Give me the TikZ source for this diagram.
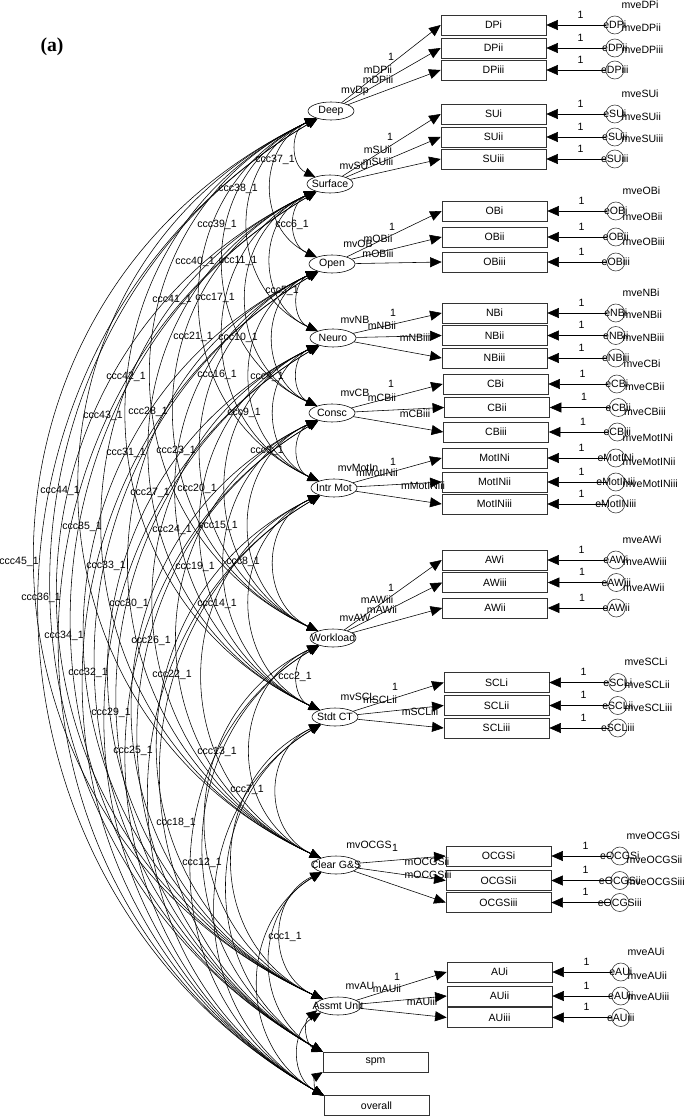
\documentclass[tikz,border=0pt]{standalone}
\usepackage{fontspec}
\setmainfont{Liberation Sans}
\newfontfamily\captionserif{Liberation Serif}
\usepackage{tikz}
\usetikzlibrary{positioning}
\usetikzlibrary{shapes.geometric}
\usetikzlibrary{arrows.meta}

\begin{document}
\begin{tikzpicture}[
    x=0.025cm, y=-0.025cm,
    every node/.style={font=\fontsize{7.5}{9}\selectfont, inner sep=0pt},
    latent/.style={ellipse, draw=black, fill=white, minimum width=1.15cm, minimum height=0.45cm},
    obsbox/.style={rectangle, draw=black!80, fill=white, minimum width=2.625cm, minimum height=0.49cm},
    errnode/.style={circle, draw=black!80, minimum size=0.45cm},
    load/.style={-{Triangle[length=0.29cm,width=0.25cm]}},
    covar/.style={{Triangle[length=0.27cm,width=0.23cm]}-{Triangle[length=0.27cm,width=0.23cm]}, bend right=65, looseness=1.21},
    covobs/.style={covar, bend right=60, looseness=1.13},
    one/.style={pos=0.42, above=0.16cm}
]
\useasboundingbox (0,0) rectangle (685,1116);
\node[font=\fontsize{14}{16}\selectfont\captionserif\bfseries] (tag) at (52,47) {(a)};

% Latent factors
\node[latent] (dp) at (331,111) {\makebox[0pt]{Deep}};
\node[latent] (su) at (330,184) {\makebox[0pt]{Surface}};
\node[latent] (op) at (332,264) {\makebox[0pt]{Open}};
\node[latent] (ne) at (333,338) {\makebox[0pt]{Neuro}};
\node[latent] (co) at (332,413) {\makebox[0pt]{Consc}};
\node[latent] (im) at (334,488) {\makebox[0pt]{Intr Mot}};
\node[latent] (wl) at (333,638) {\makebox[0pt]{Workload}};
\node[latent] (sc) at (335,717) {\makebox[0pt]{Stdt CT}};
\node[latent] (cg) at (336,865) {\makebox[0pt]{Clear G\&S}};
\node[latent] (au) at (338,1006) {\makebox[0pt]{Assmt Unit}};
\node[obsbox] (spm) at (375.5,1062) {spm};
\node[obsbox] (ovr) at (376.5,1105.5) {overall};

% Deep indicators
\node[obsbox] (DPi) at (493.5,25) {DPi};
\node[obsbox] (DPii) at (493.5,48) {DPii};
\node[obsbox] (DPiii) at (493.5,70) {DPiii};
\node[errnode, right=1.48cm of DPi] (eDPi) {\makebox[0pt]{eDPi}};
\node[errnode, right=1.48cm of DPii] (eDPii) {\makebox[0pt]{eDPii}};
\node[errnode, right=1.48cm of DPiii] (eDPiii) {\makebox[0pt]{eDPiii}};
\node[above right=0.24cm and 0cm of eDPi] (mveDPi) {mveDPi};
\node[above right=0.24cm and 0cm of eDPii] (mveDPii) {mveDPii};
\node[above right=0.24cm and 0cm of eDPiii] (mveDPiii) {mveDPiii};
\node (fDPi) at (391,57) {1};
\node (mDPii) at (378,70) {mDPii};
\node (mDPiii) at (378,80) {mDPiii};
\node (mvDp) at (355,91) {mvDp};
\draw[load] (dp) -- (DPi.west);
\draw[load] (dp) -- (DPii.west);
\draw[load] (dp) -- (DPiii.west);
\draw[load] (eDPi) -- node[one] {1} (DPi);
\draw[load] (eDPii) -- node[one] {1} (DPii);
\draw[load] (eDPiii) -- node[one] {1} (DPiii);

% Surface indicators
\node[obsbox] (SUi) at (493.5,114) {SUi};
\node[obsbox] (SUii) at (493.5,137) {SUii};
\node[obsbox] (SUiii) at (493.5,159) {SUiii};
\node[errnode, right=1.48cm of SUi] (eSUi) {\makebox[0pt]{eSUi}};
\node[errnode, right=1.48cm of SUii] (eSUii) {\makebox[0pt]{eSUii}};
\node[errnode, right=1.48cm of SUiii] (eSUiii) {\makebox[0pt]{eSUiii}};
\node[above right=0.24cm and 0cm of eSUi] (mveSUi) {mveSUi};
\node[above right=0.24cm and 0cm of eSUii] (mveSUii) {mveSUii};
\node[above right=0.24cm and 0cm of eSUiii] (mveSUiii) {mveSUiii};
\node (fSUi) at (390,137) {1};
\node (mSUii) at (378,150) {mSUii};
\node (mSUiii) at (378,162) {mSUiii};
\node (mvSU) at (354,166) {mvSU};
\draw[load] (su) -- (SUi.west);
\draw[load] (su) -- (SUii.west);
\draw[load] (su) -- (SUiii.west);
\draw[load] (eSUi) -- node[one] {1} (SUi);
\draw[load] (eSUii) -- node[one] {1} (SUii);
\draw[load] (eSUiii) -- node[one] {1} (SUiii);

% Open indicators
\node[obsbox] (OBi) at (494.5,211) {OBi};
\node[obsbox] (OBii) at (494.5,237) {OBii};
\node[obsbox] (OBiii) at (494.5,262) {OBiii};
\node[errnode, right=1.48cm of OBi] (eOBi) {\makebox[0pt]{eOBi}};
\node[errnode, right=1.48cm of OBii] (eOBii) {\makebox[0pt]{eOBii}};
\node[errnode, right=1.48cm of OBiii] (eOBiii) {\makebox[0pt]{eOBiii}};
\node[above right=0.24cm and 0cm of eOBi] (mveOBi) {mveOBi};
\node[above right=0.24cm and 0cm of eOBii] (mveOBii) {mveOBii};
\node[above right=0.24cm and 0cm of eOBiii] (mveOBiii) {mveOBiii};
\node (fOBi) at (392,227) {1};
\node (mOBii) at (378,239) {mOBii};
\node (mOBiii) at (378,254) {mOBiii};
\node (mvOB) at (358,244) {mvOB};
\draw[load] (op) -- (OBi.west);
\draw[load] (op) -- (OBii.west);
\draw[load] (op) -- (OBiii.west);
\draw[load] (eOBi) -- node[one] {1} (OBi);
\draw[load] (eOBii) -- node[one] {1} (OBii);
\draw[load] (eOBiii) -- node[one] {1} (OBiii);

% Neuro indicators
\node[obsbox] (NBi) at (494.5,313) {NBi};
\node[obsbox] (NBii) at (494.5,335.5) {NBii};
\node[obsbox] (NBiii) at (494.5,358) {NBiii};
\node[errnode, right=1.48cm of NBi] (eNBi) {\makebox[0pt]{eNBi}};
\node[errnode, right=1.48cm of NBii] (eNBii) {\makebox[0pt]{eNBii}};
\node[errnode, right=1.48cm of NBiii] (eNBiii) {\makebox[0pt]{eNBiii}};
\node[above right=0.24cm and 0cm of eNBi] (mveNBi) {mveNBi};
\node[above right=0.24cm and 0cm of eNBii] (mveNBii) {mveNBii};
\node[above right=0.24cm and 0cm of eNBiii] (mveNBiii) {mveNBiii};
\node (fNBi) at (393,313) {1};
\node (mNBii) at (382,326) {mNBii};
\node (mNBiii) at (415,338) {mNBiii};
\node (mvNB) at (355,320) {mvNB};
\draw[load] (ne) -- (NBi.west);
\draw[load] (ne) -- (NBii.west);
\draw[load] (ne) -- (NBiii.west);
\draw[load] (eNBi) -- node[one] {1} (NBi);
\draw[load] (eNBii) -- node[one] {1} (NBii);
\draw[load] (eNBiii) -- node[one] {1} (NBiii);

% Consc indicators
\node[obsbox] (CBi) at (495.5,384) {CBi};
\node[obsbox] (CBii) at (497,407.5) {CBii};
\node[obsbox] (CBiii) at (496,432) {CBiii};
\node[errnode, right=1.48cm of CBi] (eCBi) {\makebox[0pt]{eCBi}};
\node[errnode, right=1.48cm of CBii] (eCBii) {\makebox[0pt]{eCBii}};
\node[errnode, right=1.48cm of CBiii] (eCBiii) {\makebox[0pt]{eCBiii}};
\node[above right=0.24cm and 0cm of eCBi] (mveCBi) {mveCBi};
\node[above right=0.24cm and 0cm of eCBii] (mveCBii) {mveCBii};
\node[above right=0.24cm and 0cm of eCBiii] (mveCBiii) {mveCBiii};
\node (fCBi) at (391,384) {1};
\node (mCBii) at (382,398) {mCBii};
\node (mCBiii) at (415,414) {mCBiii};
\node (mvCB) at (355,393) {mvCB};
\draw[load] (co) -- (CBi.west);
\draw[load] (co) -- (CBii.west);
\draw[load] (co) -- (CBiii.west);
\draw[load] (eCBi) -- node[one] {1} (CBi);
\draw[load] (eCBii) -- node[one] {1} (CBii);
\draw[load] (eCBiii) -- node[one] {1} (CBiii);

% Intr Mot indicators
\node[obsbox] (MotINi) at (494.5,458) {MotINi};
\node[obsbox] (MotINii) at (494.5,482) {MotINii};
\node[obsbox] (MotINiii) at (494.5,504) {MotINiii};
\node[errnode, right=1.48cm of MotINi] (eMotINi) {\makebox[0pt]{eMotINi}};
\node[errnode, right=1.48cm of MotINii] (eMotINii) {\makebox[0pt]{eMotINii}};
\node[errnode, right=1.48cm of MotINiii] (eMotINiii) {\makebox[0pt]{eMotINiii}};
\node[above right=0.24cm and 0cm of eMotINi] (mveMotINi) {mveMotINi};
\node[above right=0.24cm and 0cm of eMotINii] (mveMotINii) {mveMotINii};
\node[above right=0.24cm and 0cm of eMotINiii] (mveMotINiii) {mveMotINiii};
\node (fMotINi) at (393,462) {1};
\node (mMotINii) at (377,473) {mMotINii};
\node (mMotINiii) at (423,486) {mMotINiii};
\node (mvMotIn) at (358,468) {mvMotIn};
\draw[load] (im) -- (MotINi.west);
\draw[load] (im) -- (MotINii.west);
\draw[load] (im) -- (MotINiii.west);
\draw[load] (eMotINi) -- node[one] {1} (MotINi);
\draw[load] (eMotINii) -- node[one] {1} (MotINii);
\draw[load] (eMotINiii) -- node[one] {1} (MotINiii);

% Workload indicators
\node[obsbox] (AWi) at (494.5,560) {AWi};
\node[obsbox] (AWiii) at (495,582.5) {AWiii};
\node[obsbox] (AWii) at (495,608) {AWii};
\node[errnode, right=1.48cm of AWi] (eAWi) {\makebox[0pt]{eAWi}};
\node[errnode, right=1.48cm of AWiii] (eAWiii) {\makebox[0pt]{eAWiii}};
\node[errnode, right=1.48cm of AWii] (eAWii) {\makebox[0pt]{eAWii}};
\node[above right=0.24cm and 0cm of eAWi] (mveAWi) {mveAWi};
\node[above right=0.24cm and 0cm of eAWiii] (mveAWiii) {mveAWiii};
\node[above right=0.24cm and 0cm of eAWii] (mveAWii) {mveAWii};
\node (fAWi) at (391,588) {1};
\node (mAWiii) at (377,600) {mAWiii};
\node (mAWii) at (382,610) {mAWii};
\node (mvAW) at (355,618) {mvAW};
\draw[load] (wl) -- (AWi.west);
\draw[load] (wl) -- (AWiii.west);
\draw[load] (wl) -- (AWii.west);
\draw[load] (eAWi) -- node[one] {1} (AWi);
\draw[load] (eAWiii) -- node[one] {1} (AWiii);
\draw[load] (eAWii) -- node[one] {1} (AWii);

% Stdt CT indicators
\node[obsbox] (SCLi) at (496.5,682.5) {SCLi};
\node[obsbox] (SCLii) at (496.5,705.5) {SCLii};
\node[obsbox] (SCLiii) at (496.5,728) {SCLiii};
\node[errnode, right=1.48cm of SCLi] (eSCLi) {\makebox[0pt]{eSCLi}};
\node[errnode, right=1.48cm of SCLii] (eSCLii) {\makebox[0pt]{eSCLii}};
\node[errnode, right=1.48cm of SCLiii] (eSCLiii) {\makebox[0pt]{eSCLiii}};
\node[above right=0.24cm and 0cm of eSCLi] (mveSCLi) {mveSCLi};
\node[above right=0.24cm and 0cm of eSCLii] (mveSCLii) {mveSCLii};
\node[above right=0.24cm and 0cm of eSCLiii] (mveSCLiii) {mveSCLiii};
\node (fSCLi) at (395,687) {1};
\node (mSCLii) at (380,700) {mSCLii};
\node (mSCLiii) at (420,712) {mSCLiii};
\node (mvSCL) at (358,697) {mvSCL};
\draw[load] (sc) -- (SCLi.west);
\draw[load] (sc) -- (SCLii.west);
\draw[load] (sc) -- (SCLiii.west);
\draw[load] (eSCLi) -- node[one] {1} (SCLi);
\draw[load] (eSCLii) -- node[one] {1} (SCLii);
\draw[load] (eSCLiii) -- node[one] {1} (SCLiii);

% Clear G&S indicators
\node[obsbox] (OCGSi) at (498.5,856) {OCGSi};
\node[obsbox] (OCGSii) at (498.5,880.5) {OCGSii};
\node[obsbox] (OCGSiii) at (498.5,902.5) {OCGSiii};
\node[errnode, right=1.48cm of OCGSi] (eOCGSi) {\makebox[0pt]{eOCGSi}};
\node[errnode, right=1.48cm of OCGSii] (eOCGSii) {\makebox[0pt]{eOCGSii}};
\node[errnode, right=1.48cm of OCGSiii] (eOCGSiii) {\makebox[0pt]{eOCGSiii}};
\node[above right=0.24cm and 0cm of eOCGSi] (mveOCGSi) {mveOCGSi};
\node[above right=0.24cm and 0cm of eOCGSii] (mveOCGSii) {mveOCGSii};
\node[above right=0.24cm and 0cm of eOCGSiii] (mveOCGSiii) {mveOCGSiii};
\node (fOCGSi) at (395,848) {1};
\node (mOCGSii) at (427,862) {mOCGSii};
\node (mOCGSiii) at (428,875) {mOCGSiii};
\node (mvOCGS) at (369,845) {mvOCGS};
\draw[load] (cg) -- (OCGSi.west);
\draw[load] (cg) -- (OCGSii.west);
\draw[load] (cg) -- (OCGSiii.west);
\draw[load] (eOCGSi) -- node[one] {1} (OCGSi);
\draw[load] (eOCGSii) -- node[one] {1} (OCGSii);
\draw[load] (eOCGSiii) -- node[one] {1} (OCGSiii);

% Assmt Unit indicators
\node[obsbox] (AUi) at (499.5,972) {AUi};
\node[obsbox] (AUii) at (499.5,996) {AUii};
\node[obsbox] (AUiii) at (499.5,1017.5) {AUiii};
\node[errnode, right=1.48cm of AUi] (eAUi) {\makebox[0pt]{eAUi}};
\node[errnode, right=1.48cm of AUii] (eAUii) {\makebox[0pt]{eAUii}};
\node[errnode, right=1.48cm of AUiii] (eAUiii) {\makebox[0pt]{eAUiii}};
\node[above right=0.24cm and 0cm of eAUi] (mveAUi) {mveAUi};
\node[above right=0.24cm and 0cm of eAUii] (mveAUii) {mveAUii};
\node[above right=0.24cm and 0cm of eAUiii] (mveAUiii) {mveAUiii};
\node (fAUi) at (397,977) {1};
\node (mAUii) at (387,989) {mAUii};
\node (mAUiii) at (422,1002) {mAUiii};
\node (mvAU) at (360,986) {mvAU};
\draw[load] (au) -- (AUi.west);
\draw[load] (au) -- (AUii.west);
\draw[load] (au) -- (AUiii.west);
\draw[load] (eAUi) -- node[one] {1} (AUi);
\draw[load] (eAUii) -- node[one] {1} (AUii);
\draw[load] (eAUiii) -- node[one] {1} (AUiii);

% Covariances between factors
\draw[covar] (dp) to (su);
\draw[covar] (dp) to (op);
\draw[covar] (dp) to (ne);
\draw[covar] (dp) to (co);
\draw[covar] (dp) to (im);
\draw[covar] (dp) to (wl);
\draw[covar] (dp) to (sc);
\draw[covar] (dp) to (cg);
\draw[covar] (dp) to (au);
\draw[covar] (su) to (op);
\draw[covar] (su) to (ne);
\draw[covar] (su) to (co);
\draw[covar] (su) to (im);
\draw[covar] (su) to (wl);
\draw[covar] (su) to (sc);
\draw[covar] (su) to (cg);
\draw[covar] (su) to (au);
\draw[covar] (op) to (ne);
\draw[covar] (op) to (co);
\draw[covar] (op) to (im);
\draw[covar] (op) to (wl);
\draw[covar] (op) to (sc);
\draw[covar] (op) to (cg);
\draw[covar] (op) to (au);
\draw[covar] (ne) to (co);
\draw[covar] (ne) to (im);
\draw[covar] (ne) to (wl);
\draw[covar] (ne) to (sc);
\draw[covar] (ne) to (cg);
\draw[covar] (ne) to (au);
\draw[covar] (co) to (im);
\draw[covar] (co) to (wl);
\draw[covar] (co) to (sc);
\draw[covar] (co) to (cg);
\draw[covar] (co) to (au);
\draw[covar] (im) to (wl);
\draw[covar] (im) to (sc);
\draw[covar] (im) to (cg);
\draw[covar] (im) to (au);
\draw[covar] (wl) to (sc);
\draw[covar] (wl) to (cg);
\draw[covar] (wl) to (au);
\draw[covar] (sc) to (cg);
\draw[covar] (sc) to (au);
\draw[covar] (cg) to (au);

% Covariances with spm and overall
\draw[covobs] (dp) to (spm.north west);
\draw[covobs] (su) to (spm.north west);
\draw[covobs] (op) to (spm.north west);
\draw[covobs] (ne) to (spm.north west);
\draw[covobs] (co) to (spm.north west);
\draw[covobs] (im) to (spm.north west);
\draw[covobs] (wl) to (spm.north west);
\draw[covobs] (sc) to (spm.north west);
\draw[covobs] (cg) to (spm.north west);
\draw[covobs] (au) to (spm.north west);
\draw[covobs] (dp) to (ovr.north west);
\draw[covobs] (su) to (ovr.north west);
\draw[covobs] (op) to (ovr.north west);
\draw[covobs] (ne) to (ovr.north west);
\draw[covobs] (co) to (ovr.north west);
\draw[covobs] (im) to (ovr.north west);
\draw[covobs] (wl) to (ovr.north west);
\draw[covobs] (sc) to (ovr.north west);
\draw[covobs] (cg) to (ovr.north west);
\draw[covobs] (au) to (ovr.north west);
\draw[covobs] (spm.south west) to (ovr.north west);

% Covariance labels
\node (c1) at (285,937) {ccc1\_1};
\node (c2) at (295,677) {ccc2\_1};
\node (c3) at (267,451) {ccc3\_1};
\node (c4) at (267,377) {ccc4\_1};
\node (c5) at (282,291) {ccc5\_1};
\node (c6) at (292,225) {ccc6\_1};
\node (c7) at (247,790) {ccc7\_1};
\node (c8) at (243,562) {ccc8\_1};
\node (c9) at (244,413) {ccc9\_1};
\node (c10) at (238,338) {ccc10\_1};
\node (c11) at (238,261) {ccc11\_1};
\node (c12) at (202,863) {ccc12\_1};
\node (c13) at (217,752) {ccc13\_1};
\node (c14) at (217,604) {ccc14\_1};
\node (c15) at (218,526) {ccc15\_1};
\node (c16) at (217,375) {ccc16\_1};
\node (c17) at (215,298) {ccc17\_1};
\node (c18) at (176,823) {ccc18\_1};
\node (c19) at (195,567) {ccc19\_1};
\node (c20) at (197,489) {ccc20\_1};
\node (c21) at (193,337) {ccc21\_1};
\node (c22) at (172,675) {ccc22\_1};
\node (c23) at (176,451) {ccc23\_1};
\node (c24) at (172,530) {ccc24\_1};
\node (c25) at (133,751) {ccc25\_1};
\node (c26) at (151,641) {ccc26\_1};
\node (c27) at (150,493) {ccc27\_1};
\node (c28) at (148,412) {ccc28\_1};
\node (c29) at (111,713) {ccc29\_1};
\node (c30) at (129,604) {ccc30\_1};
\node (c31) at (126,453) {ccc31\_1};
\node (c32) at (88,673) {ccc32\_1};
\node (c33) at (106,566) {ccc33\_1};
\node (c34) at (64,636) {ccc34\_1};
\node (c35) at (82,527) {ccc35\_1};
\node (c36) at (41,598) {ccc36\_1};
\node (c37) at (275,160) {ccc37\_1};
\node (c38) at (238,189) {ccc38\_1};
\node (c39) at (217,225) {ccc39\_1};
\node (c40) at (195,262) {ccc40\_1};
\node (c41) at (172,300) {ccc41\_1};
\node (c42) at (126,377) {ccc42\_1};
\node (c43) at (103,416) {ccc43\_1};
\node (c44) at (60,491) {ccc44\_1};
\node (c45) at (19,562) {ccc45\_1};

\end{tikzpicture}
\end{document}
